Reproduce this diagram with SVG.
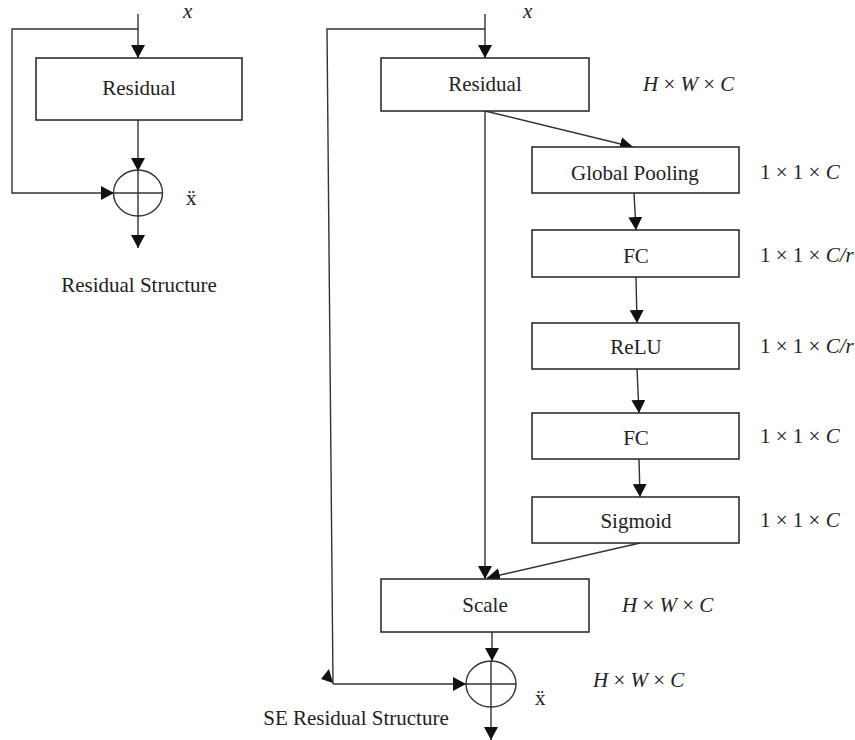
<svg xmlns="http://www.w3.org/2000/svg" width="855" height="740" viewBox="0 0 855 740">
<defs>
<marker id="ah" markerUnits="userSpaceOnUse" markerWidth="14" markerHeight="14" viewBox="0 0 14 14" refX="13" refY="7" orient="auto">
<path d="M0,0 L13,7 L0,14 Z" fill="#111"/>
</marker>
</defs>
<style>
.box{fill:#fff;stroke:#222;stroke-width:1.5}
.ln{fill:none;stroke:#333;stroke-width:1.4}
.arr{fill:none;stroke:#333;stroke-width:1.4;marker-end:url(#ah)}
text{font-family:"Liberation Serif","Times New Roman",serif;font-size:21px;fill:#222}
.c{text-anchor:middle}
.i{font-style:italic}
</style>
<rect width="855" height="740" fill="#fff"/>
<g id="connectors">
<line class="arr" x1="138" y1="14" x2="138" y2="58"/>
<polyline class="arr" points="138,29 12,29 12,193 114,193"/>
<line class="arr" x1="138" y1="120" x2="138" y2="171"/>
<line class="arr" x1="138" y1="216" x2="138" y2="248"/>
<line class="arr" x1="485" y1="14" x2="485" y2="58"/>
<polyline class="ln" points="485,29 327,29 333,684"/>
<polygon points="321,679 329,669 333,683" fill="#111"/>
<line class="arr" x1="333" y1="684" x2="466" y2="684"/>
<line class="arr" x1="485" y1="111" x2="633" y2="147"/>
<line class="arr" x1="485" y1="111" x2="485" y2="579"/>
<line class="arr" x1="634" y1="193" x2="636" y2="230"/>
<line class="arr" x1="636" y1="277" x2="637" y2="323"/>
<line class="arr" x1="637" y1="369" x2="639" y2="413"/>
<line class="arr" x1="639" y1="459" x2="640" y2="497"/>
<line class="arr" x1="640" y1="543" x2="487" y2="578"/>
<line class="arr" x1="492" y1="632" x2="492" y2="661"/>
<line class="arr" x1="491" y1="707" x2="491" y2="740"/>
</g>
<g id="n-residual-left">
<rect class="box" x="36" y="58" width="206" height="62"/>
<text class="c" x="139" y="95">Residual</text>
</g>
<g id="n-sum-left">
<ellipse class="ln" cx="138" cy="193" rx="24.5" ry="23"/>
<line class="ln" x1="113.5" y1="193" x2="162.5" y2="193"/>
<line class="ln" x1="138" y1="170" x2="138" y2="216"/>
</g>
<g id="labels-left">
<text class="i" x="183" y="18">x</text>
<text x="186" y="205">ẍ</text>
<text class="c" x="139" y="292">Residual Structure</text>
</g>
<g id="n-residual-right">
<rect class="box" x="381" y="58" width="208" height="53"/>
<text class="c" x="485" y="91">Residual</text>
</g>
<g id="n-global-pooling">
<rect class="box" x="532" y="147" width="207" height="46"/>
<text class="c" x="635" y="180">Global Pooling</text>
</g>
<g id="n-fc1">
<rect class="box" x="532" y="230" width="207" height="47"/>
<text class="c" x="636" y="263">FC</text>
</g>
<g id="n-relu">
<rect class="box" x="532" y="323" width="207" height="46"/>
<text class="c" x="636" y="354">ReLU</text>
</g>
<g id="n-fc2">
<rect class="box" x="532" y="413" width="207" height="46"/>
<text class="c" x="636" y="445">FC</text>
</g>
<g id="n-sigmoid">
<rect class="box" x="532" y="497" width="207" height="46"/>
<text class="c" x="636" y="528">Sigmoid</text>
</g>
<g id="n-scale">
<rect class="box" x="381" y="579" width="208" height="53"/>
<text class="c" x="485" y="612">Scale</text>
</g>
<g id="n-sum-right">
<ellipse class="ln" cx="491" cy="684" rx="25" ry="23"/>
<line class="ln" x1="466" y1="684" x2="516" y2="684"/>
<line class="ln" x1="491" y1="661" x2="491" y2="707"/>
</g>
<g id="labels-right">
<text class="i" x="523" y="18">x</text>
<text x="643" y="91"><tspan class="i">H</tspan> × <tspan class="i">W</tspan> × <tspan class="i">C</tspan></text>
<text x="760" y="179">1 × 1 × <tspan class="i">C</tspan></text>
<text x="760" y="262">1 × 1 × <tspan class="i">C/r</tspan></text>
<text x="760" y="353">1 × 1 × <tspan class="i">C/r</tspan></text>
<text x="760" y="443">1 × 1 × <tspan class="i">C</tspan></text>
<text x="760" y="527">1 × 1 × <tspan class="i">C</tspan></text>
<text x="622" y="612"><tspan class="i">H</tspan> × <tspan class="i">W</tspan> × <tspan class="i">C</tspan></text>
<text x="593" y="687"><tspan class="i">H</tspan> × <tspan class="i">W</tspan> × <tspan class="i">C</tspan></text>
<text x="535" y="705">ẍ</text>
<text class="c" x="356" y="725">SE Residual Structure</text>
</g>
</svg>
